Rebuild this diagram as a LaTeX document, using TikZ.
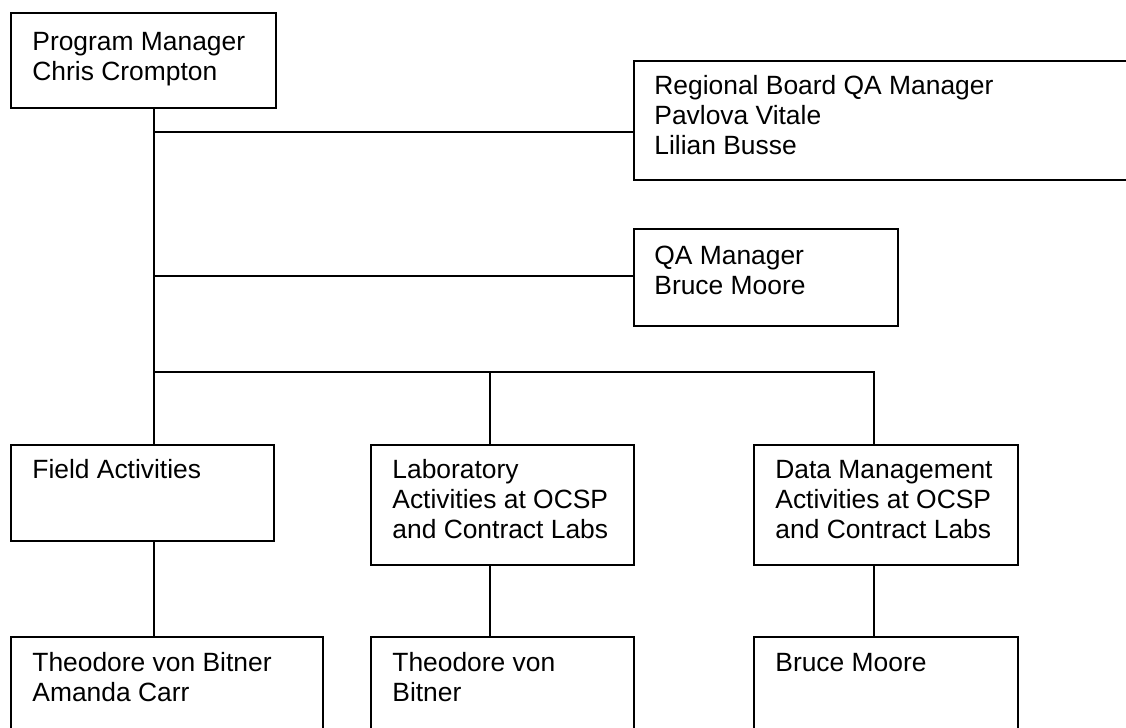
\documentclass[tikz,border=0pt]{standalone}
\usepackage{fontspec}
\setmainfont{Liberation Sans}
\newcommand{\orgfont}{\fontsize{13.2pt}{15pt}\selectfont}
\tikzset{
  orgbox/.style={draw, line width=1.1pt, anchor=north west, inner sep=0pt},
  orgtext/.style={anchor=north west, inner sep=0pt, align=left, font=\orgfont},
  link/.style={line width=0.8pt}
}
\begin{document}
\begin{tikzpicture}[x=0.5pt,y=-0.5pt]
  % cadre de la page (en pixels)
  \clip (0,0) rectangle (1126,728);

  % cases du haut
  \node[orgbox, minimum width=132.5pt, minimum height=47.5pt] (pm) at (10,12) {};
  \node[orgtext] (pmT) at ([shift={(22,17)}]pm.north west) {\strut Program Manager\\Chris Crompton};

  \node[orgbox, minimum width=260pt, minimum height=59.5pt] (rb) at (633,60) {};
  \node[orgtext] (rbT) at ([shift={(21,13)}]rb.north west) {\strut Regional Board QA Manager\\Pavlova Vitale\\Lilian Busse};

  \node[orgbox, minimum width=132pt, minimum height=48.5pt] (qa) at (633,228) {};
  \node[orgtext] (qaT) at ([shift={(21,15)}]qa.north west) {\strut QA Manager\\Bruce Moore};

  % activites
  \node[orgbox, minimum width=131.5pt, minimum height=48pt] (field) at (10,444) {};
  \node[orgtext] (fieldT) at ([shift={(22,13)}]field.north west) {\strut Field Activities};

  \node[orgbox, minimum width=131.5pt, minimum height=60pt] (lab) at (370,444) {};
  \node[orgtext] (labT) at ([shift={(22,13)}]lab.north west) {\strut Laboratory\\Activities at OCSP\\and Contract Labs};

  \node[orgbox, minimum width=132pt, minimum height=60pt] (data) at (753,444) {};
  \node[orgtext] (dataT) at ([shift={(22,13)}]data.north west) {\strut Data Management\\Activities at OCSP\\and Contract Labs};

  % responsables
  \node[orgbox, minimum width=156pt, minimum height=55pt] (tvbA) at (10,636) {};
  \node[orgtext] (tvbAT) at ([shift={(22,14)}]tvbA.north west) {\strut Theodore von Bitner\\Amanda Carr};

  \node[orgbox, minimum width=131.5pt, minimum height=55pt] (tvbB) at (370,636) {};
  \node[orgtext] (tvbBT) at ([shift={(22,14)}]tvbB.north west) {\strut Theodore von\\Bitner};

  \node[orgbox, minimum width=132pt, minimum height=55pt] (bm) at (753,636) {};
  \node[orgtext] (bmT) at ([shift={(22,14)}]bm.north west) {\strut Bruce Moore};

  % liaisons
  \coordinate (j1) at (154,132);
  \coordinate (j2) at (154,276);
  \coordinate (j3) at (154,372);
  \coordinate (j4) at (490,372);
  \coordinate (j5) at (874,372);

  \draw[link] (pm.south -| j1) -- (field.north -| j1);
  \draw[link] (j1) -- (j1 -| rb.west);
  \draw[link] (j2) -- (j2 -| qa.west);
  \draw[link] (j3) -- (j5) -- (j5 |- data.north);
  \draw[link] (j4) -- (j4 |- lab.north);

  \draw[link] (field.south -| j1) -- (tvbA.north -| j1);
  \draw[link] (lab.south -| j4) -- (tvbB.north -| j4);
  \draw[link] (data.south -| j5) -- (bm.north -| j5);
\end{tikzpicture}
\end{document}
